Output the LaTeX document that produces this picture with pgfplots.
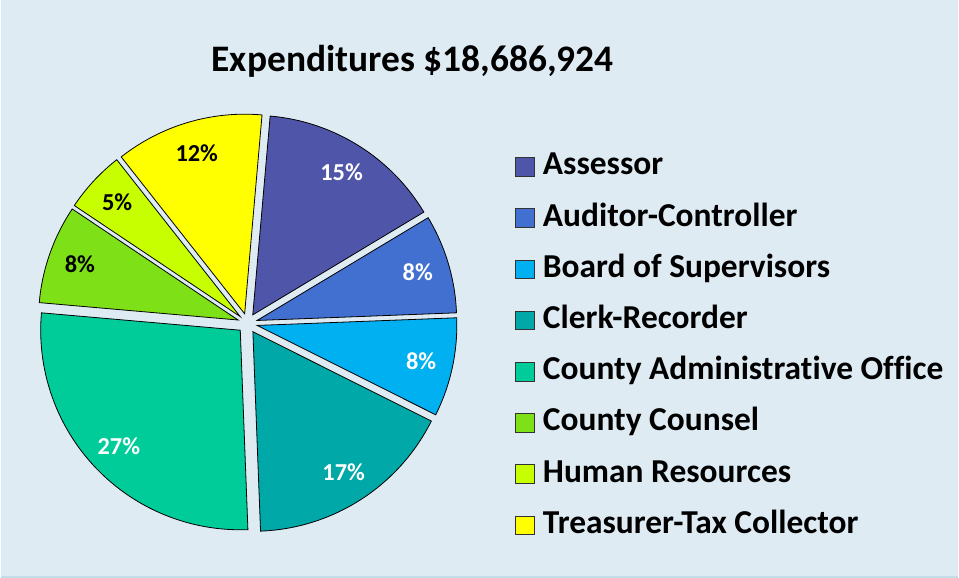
\documentclass[border=0pt]{standalone}
\usepackage{pgfplots}
\pgfplotsset{compat=1.18}
\usepackage{fontspec}
\setmainfont{Carlito}[Ligatures=NoCommon]
\definecolor{bgc}{HTML}{DEEBF3}
\definecolor{bordc}{HTML}{C2DDE8}
\definecolor{cAss}{HTML}{4F55A8}
\definecolor{cAud}{HTML}{4270D0}
\definecolor{cBoard}{HTML}{00B0F0}
\definecolor{cClerk}{HTML}{00A8A8}
\definecolor{cCAO}{HTML}{00CC99}
\definecolor{cCC}{HTML}{7EE016}
\definecolor{cHR}{HTML}{C8FF00}
\definecolor{cTT}{HTML}{FFFF00}
\newcommand\labelfont{\fontsize{12.2}{14}\selectfont\bfseries}
% pie geometry (pixel units)
\def\cx{247}\def\cy{255}\def\R{200}\def\expl{10}\def\lr{168}
\gdef\cum{5}
\newcommand\pieslice[4]{%
  \pgfmathsetmacro\sa{\cum}%
  \pgfmathsetmacro\sb{\cum+#1*3.6}%
  \pgfmathsetmacro\md{90-(\sa+\sb)/2}%
  \pgfmathsetmacro\ex{\cx+\expl*cos(\md)}%
  \pgfmathsetmacro\ey{\cy+\expl*sin(\md)}%
  \pgfmathsetmacro\ta{90-\sb}%
  \pgfmathsetmacro\tb{90-\sa}%
  \pgfmathsetmacro\lx{\ex+\lr*cos(\md)}%
  \pgfmathsetmacro\ly{\ey+\lr*sin(\md)}%
  \edef\doit{%
    \noexpand\addplot[fill=#2, draw=black, line width=0.4pt, domain=\ta:\tb, samples=60]
      ({\ex+\R*cos(x)},{\ey+\R*sin(x)}) -- (axis cs:\ex,\ey) -- cycle;
    \noexpand\addlegendentry{#4}
    \noexpand\node[text=#3, font=\noexpand\labelfont] at (axis cs:\lx,\ly) {#1\noexpand\%};
  }\doit
  \xdef\cum{\sb}%
}
\begin{document}
\begin{tikzpicture}
\begin{axis}[
  hide axis, scale only axis, clip=false,
  width=479.5pt, height=289.5pt,
  xmin=0, xmax=959, ymin=0, ymax=579,
  legend image code/.code={\draw[#1, draw=black!80, line width=0.5pt] (0pt,-4.65pt) rectangle (9.3pt,4.65pt);},
  legend cell align=left,
  legend style={draw=none, fill=none, inner sep=0pt, outer sep=0pt,
    at={(0.5375,0.7387)}, anchor=north west,
    row sep=9.65pt, column sep=4pt,
    font=\fontsize{16.75}{19}\selectfont\bfseries,
    nodes={inner sep=0pt, text height=12pt, text depth=4pt}},
]
\fill[bgc] (axis cs:0,0) rectangle (axis cs:959,579);
\draw[bordc, line width=1pt] (axis cs:0,1) -- (axis cs:959,1);
\node[anchor=base, font=\fontsize{18.75}{22}\selectfont\bfseries] at (axis cs:412.5,507.3) {Expenditures \$18,686,924};
\pieslice{15}{cAss}{white}{Assessor}
\pieslice{8}{cAud}{white}{Auditor-Controller}
\pieslice{8}{cBoard}{white}{Board of Supervisors}
\pieslice{17}{cClerk}{white}{Clerk-Recorder}
\pieslice{27}{cCAO}{white}{County Administrative Office}
\pieslice{8}{cCC}{black}{County Counsel}
\pieslice{5}{cHR}{black}{Human Resources}
\pieslice{12}{cTT}{black}{Treasurer-Tax Collector}
\end{axis}
\end{tikzpicture}
\end{document}
